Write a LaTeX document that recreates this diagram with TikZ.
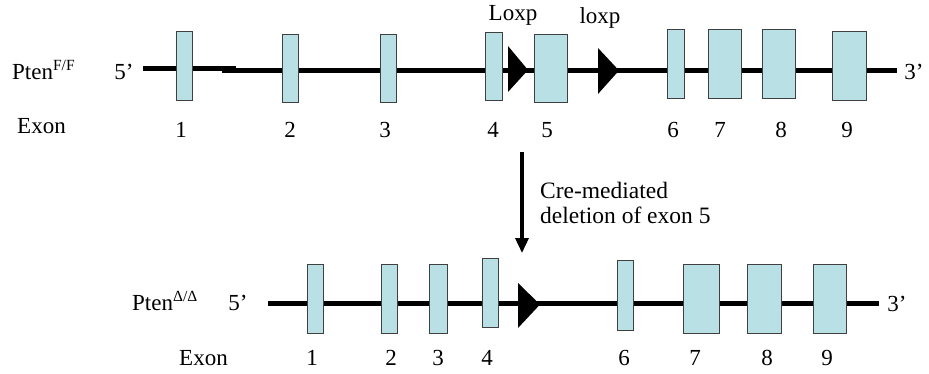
\documentclass[tikz,border=0pt]{standalone}
\usepackage{fontspec}
\setmainfont{Liberation Serif}
\usetikzlibrary{arrows.meta}
\definecolor{exonfill}{RGB}{185,224,228}
\definecolor{exonedge}{RGB}{64,64,64}
\newcommand{\supx}[1]{\raisebox{9pt}{\fontsize{15.5}{15.5}\selectfont #1}}
\begin{document}
\begin{tikzpicture}[x=1pt,y=-1pt,
  every node/.style={font=\fontsize{23}{26}\selectfont, inner sep=0pt},
  exon/.style={draw=exonedge, fill=exonfill, line width=1pt, rectangle, inner sep=0pt},
  dna/.style={line width=5pt, draw=black},
  loxsite/.style={fill=black},
  lbl/.style={anchor=base},
  lblw/.style={anchor=base west}]
\useasboundingbox (0,0) rectangle (929,373);

% ---------- top allele ----------
\coordinate (t5a) at (143,68.6);
\coordinate (t5b) at (236,68.6);
\coordinate (tAa) at (222,70.5);
\coordinate (t3)  at (897,70.5);
\draw[dna] (t5a) -- (t5b);
\draw[dna] (tAa) -- (t3);

\node[exon, minimum width=16, minimum height=69] (e1) at (184,65.5) {};
\node[exon, minimum width=16, minimum height=68] (e2) at (290,68) {};
\node[exon, minimum width=16, minimum height=68] (e3) at (388,68) {};
\node[exon, minimum width=17, minimum height=68] (e4) at (493.5,66) {};
\node[exon, minimum width=33, minimum height=68] (e5) at (550.5,68) {};
\node[exon, minimum width=17, minimum height=69] (e6) at (675.5,63.5) {};
\node[exon, minimum width=33, minimum height=69] (e7) at (724.5,63.5) {};
\node[exon, minimum width=33, minimum height=69] (e8) at (778.5,63.5) {};
\node[exon, minimum width=34, minimum height=69] (e9) at (849,65.5) {};

\fill[loxsite] (508,46) -- (508,92) -- (528,70) -- cycle;
\fill[loxsite] (598,48) -- (598,94) -- (619,70.5) -- cycle;

\node[lbl] (loxA) at (513,20) {Loxp};
\node[lbl] (loxB) at (600,23) {loxp};

\node[lblw] (ptenF) at (12,79) {Pten\supx{F/F}};
\node[lbl] (t5lab) at (124,79) {5’};
\node[lbl] (t3lab) at (914,79) {3’};
\node[lblw] (exonT) at (17,133) {Exon};
\node[lbl] (n1) at (181,137) {1};
\node[lbl] (n2) at (290,137) {2};
\node[lbl] (n3) at (385,137) {3};
\node[lbl] (n4) at (493,137) {4};
\node[lbl] (n5) at (547,137) {5};
\node[lbl] (n6) at (673,137) {6};
\node[lbl] (n7) at (720,137) {7};
\node[lbl] (n8) at (781,137) {8};
\node[lbl] (n9) at (847,137) {9};

% ---------- arrow ----------
\coordinate (arS) at (522,152);
\coordinate (arE) at (522,253);
\draw[line width=3.4pt, -{Triangle[length=15pt,width=13pt]}] (arS) -- (arE);
\node[anchor=north west, align=left, font=\fontsize{23.5}{25}\selectfont] (cre) at (540,182)
  {Cre-mediated\\deletion of exon 5};

% ---------- bottom allele ----------
\coordinate (b5) at (268,303);
\coordinate (b3) at (879,303);
\draw[dna] (b5) -- (b3);

\node[exon, minimum width=16, minimum height=69] (f1) at (315,298.5) {};
\node[exon, minimum width=16, minimum height=69] (f2) at (389,298.5) {};
\node[exon, minimum width=18, minimum height=69] (f3) at (438,298.5) {};
\node[exon, minimum width=16, minimum height=69] (f4) at (490,292.5) {};
\node[exon, minimum width=16, minimum height=70] (f6) at (625,295) {};
\node[exon, minimum width=36, minimum height=69] (f7) at (701,298.5) {};
\node[exon, minimum width=34, minimum height=69] (f8) at (764,298.5) {};
\node[exon, minimum width=33, minimum height=69] (f9) at (829.5,298.5) {};

\fill[loxsite] (518,283) -- (518,328) -- (540,304.5) -- cycle;

\node[lblw] (ptenD) at (132,310) {Pten\supx{Δ/Δ}};
\node[lbl] (b5lab) at (238,310) {5’};
\node[lbl] (b3lab) at (897,311) {3’};
\node[lblw] (exonB) at (179,365) {Exon};
\node[lbl] (m1) at (312,365) {1};
\node[lbl] (m2) at (391,365) {2};
\node[lbl] (m3) at (438,365) {3};
\node[lbl] (m4) at (487,365) {4};
\node[lbl] (m6) at (624,365) {6};
\node[lbl] (m7) at (695,365) {7};
\node[lbl] (m8) at (767,365) {8};
\node[lbl] (m9) at (827,365) {9};
\end{tikzpicture}
\end{document}
